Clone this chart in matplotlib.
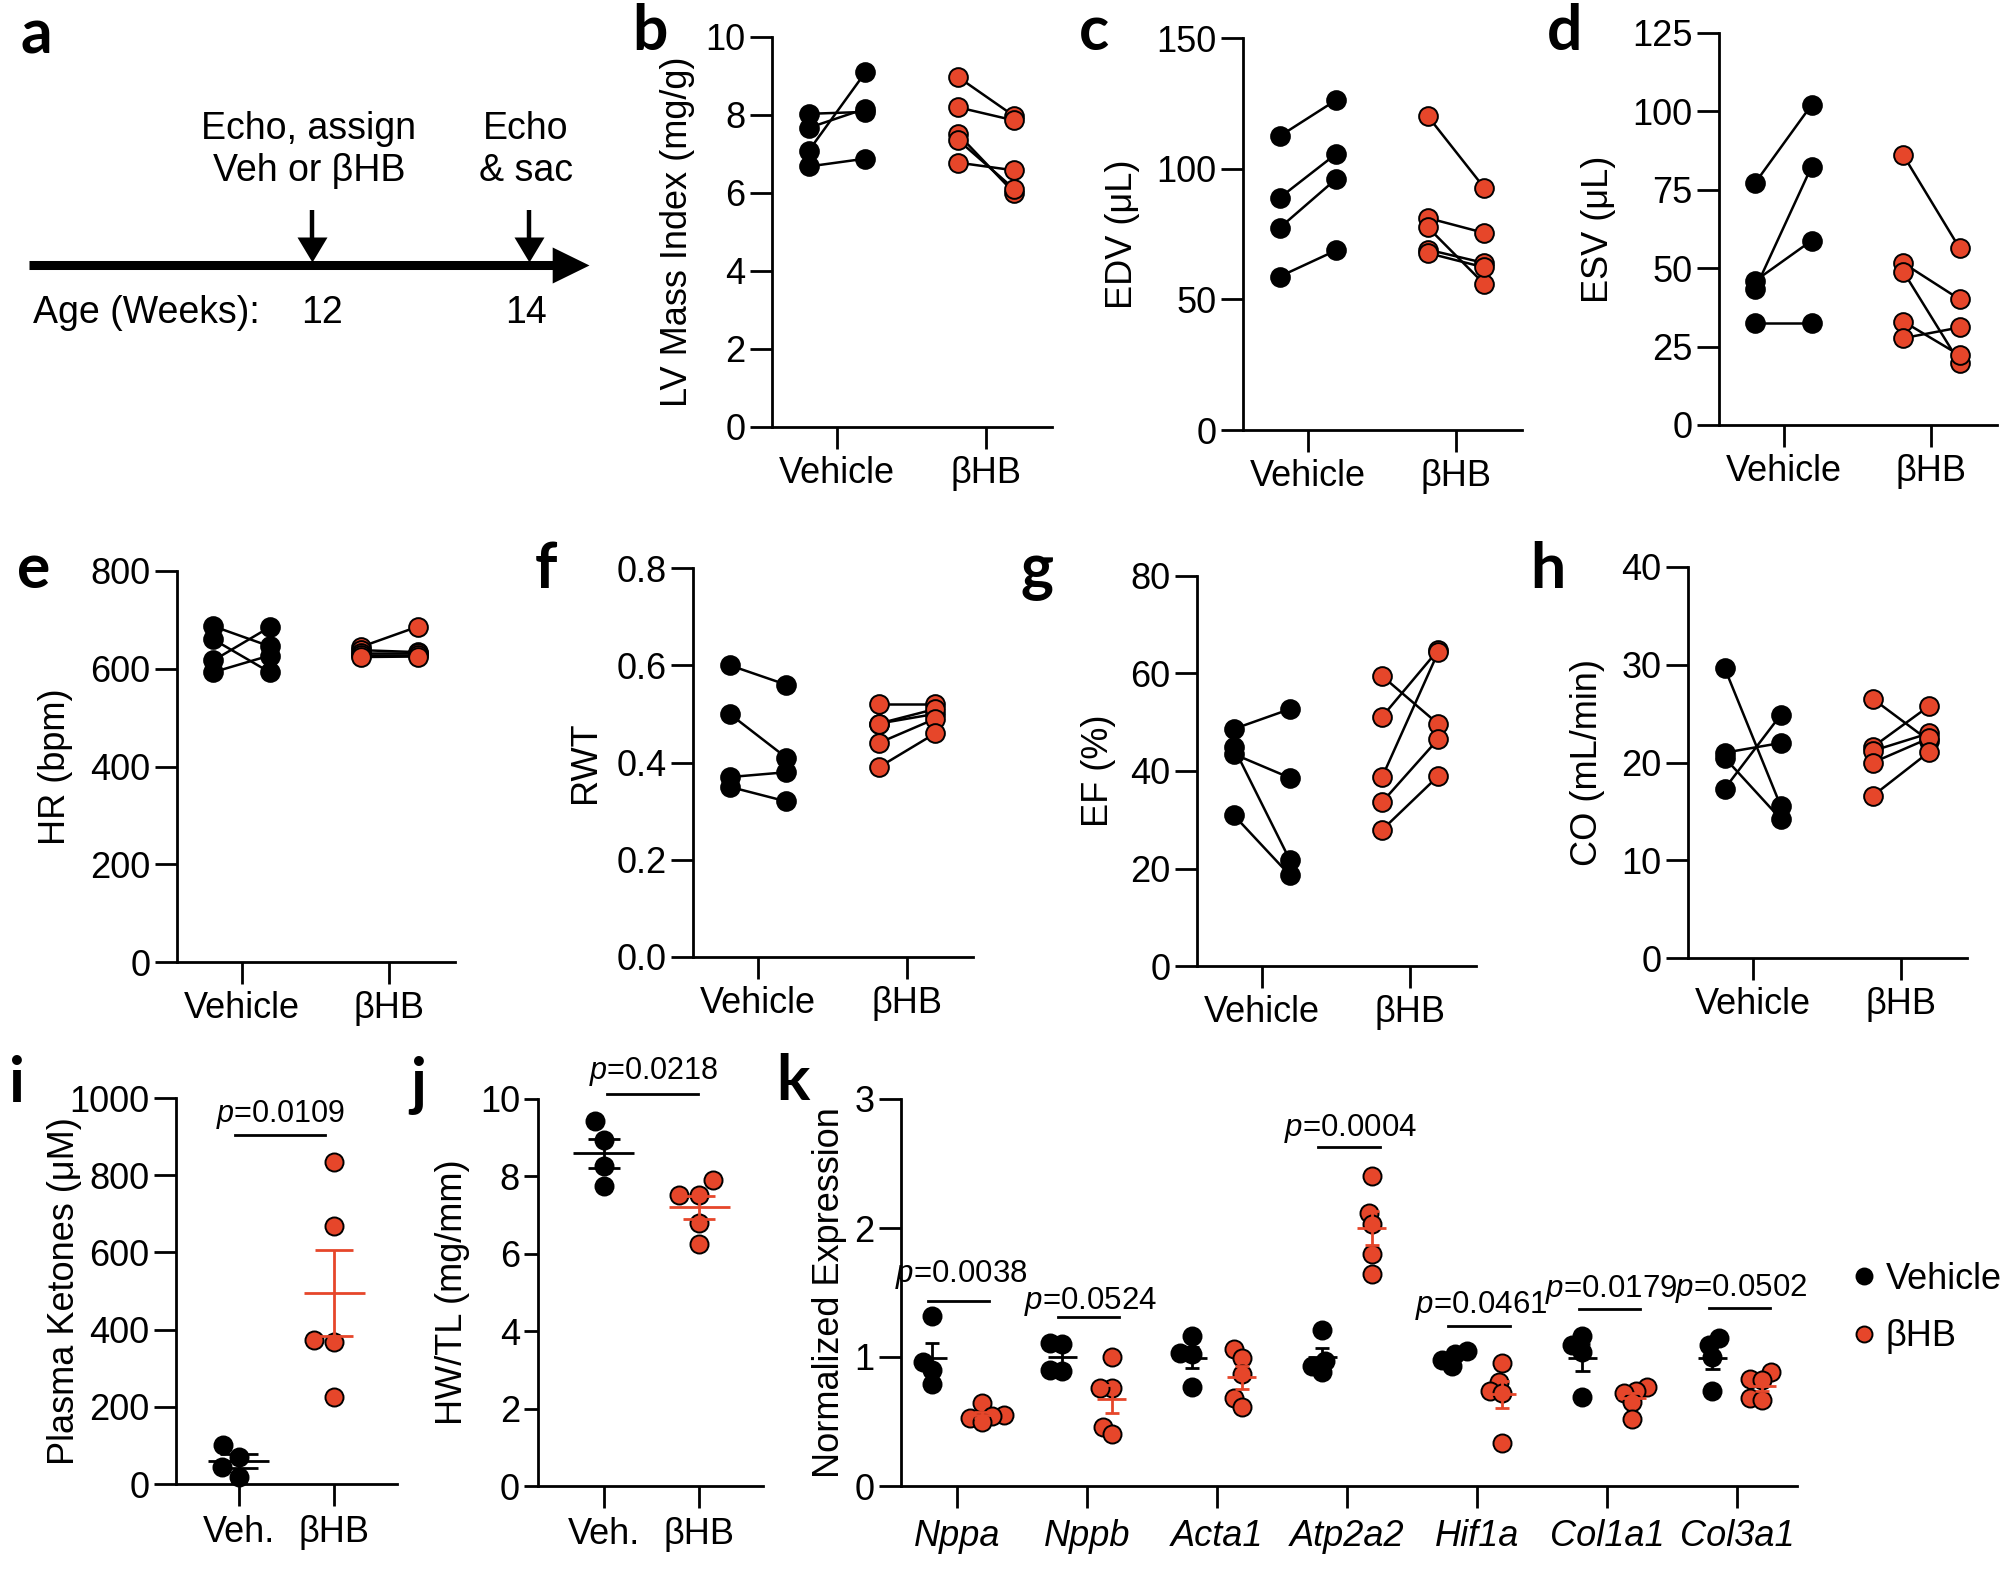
import numpy as np
import matplotlib
matplotlib.use("Agg")
import matplotlib.pyplot as plt
from matplotlib.lines import Line2D
from matplotlib.path import Path
from matplotlib.ticker import FormatStrFormatter

W, H = 2013, 1569
DPI = 100

plt.rcParams['font.family'] = ['Liberation Sans', 'DejaVu Sans']
plt.rcParams['mathtext.fontset'] = 'custom'
plt.rcParams['mathtext.rm'] = 'Liberation Sans'
plt.rcParams['mathtext.it'] = 'Liberation Sans:italic'

# ======================= DATA =======================
GROUPS = ['Vehicle', 'βHB']
GROUPS_SHORT = ['Veh.', 'βHB']

# a  timeline
timeline_weeks = [12, 14]
timeline_events = ['Echo, assign\nVeh or βHB', 'Echo\n& sac']
timeline_axis_label = 'Age (Weeks):'

# b  LV Mass Index (mg/g): paired echo 12 wk -> 14 wk
lvmi_veh_pre = [8.03, 7.67, 7.08, 6.68]
lvmi_veh_post = [8.08, 8.16, 9.09, 6.88]
lvmi_bhb_pre = [8.98, 8.20, 7.52, 7.37, 6.78]
lvmi_bhb_post = [7.97, 7.86, 6.00, 6.10, 6.58]

# c  EDV (uL)
edv_veh_pre = [112.4, 88.8, 77.3, 58.7]
edv_veh_post = [126.2, 105.6, 96.0, 68.7]
edv_bhb_pre = [120.0, 81.1, 77.5, 69.0, 67.7]
edv_bhb_post = [92.6, 75.4, 55.8, 63.9, 62.2]

# d  ESV (uL)
esv_veh_pre = [77.3, 46.0, 43.5, 32.4]
esv_veh_post = [102.1, 58.8, 82.4, 32.4]
esv_bhb_pre = [86.0, 51.6, 48.9, 33.0, 27.7]
esv_bhb_post = [56.4, 40.1, 19.9, 22.3, 31.1]

# e  HR (bpm)
hr_veh_pre = [687, 660, 617, 593]
hr_veh_post = [646, 593, 685, 627]
hr_bhb_pre = [645, 638, 632, 628, 624]
hr_bhb_post = [686, 634, 632, 628, 625]

# f  RWT
rwt_veh_pre = [0.60, 0.50, 0.37, 0.35]
rwt_veh_post = [0.56, 0.41, 0.38, 0.32]
rwt_bhb_pre = [0.52, 0.48, 0.48, 0.44, 0.39]
rwt_bhb_post = [0.52, 0.50, 0.51, 0.49, 0.46]

# g  EF (%)
ef_veh_pre = [48.6, 44.9, 43.5, 31.0]
ef_veh_post = [52.7, 21.7, 38.6, 18.6]
ef_bhb_pre = [59.5, 51.1, 38.7, 33.6, 27.9]
ef_bhb_post = [49.6, 64.9, 64.5, 46.6, 39.0]

# h  CO (mL/min)
co_veh_pre = [29.7, 17.3, 21.0, 20.5]
co_veh_post = [15.5, 24.9, 22.0, 14.2]
co_bhb_pre = [26.5, 21.6, 21.2, 20.0, 16.6]
co_bhb_post = [22.2, 25.8, 23.0, 22.5, 21.1]

# i  Plasma ketones (uM)
ket_veh = [71, 17, 101, 45]
ket_bhb = [833, 669, 373, 369, 225]
ket_p = 'p=0.0109'
ket_p_line = 904
ket_p_text = 956

# j  HW/TL (mg/mm)
hwtl_veh = [9.42, 8.95, 8.26, 7.74]
hwtl_bhb = [7.91, 7.53, 7.53, 6.79, 6.26]
hwtl_p = 'p=0.0218'
hwtl_p_line = 10.13
hwtl_p_text = 10.7

# k  Normalized expression
genes = ['Nppa', 'Nppb', 'Acta1', 'Atp2a2', 'Hif1a', 'Col1a1', 'Col3a1']
expr_veh = [
    [1.32, 0.96, 0.90, 0.79],
    [1.11, 1.10, 0.90, 0.89],
    [1.16, 1.03, 1.02, 0.77],
    [1.21, 0.97, 0.93, 0.88],
    [1.05, 1.02, 0.98, 0.93],
    [1.16, 1.09, 1.04, 0.69],
    [1.15, 1.09, 1.00, 0.74],
]
expr_bhb = [
    [0.64, 0.55, 0.54, 0.53, 0.50],
    [1.00, 0.76, 0.76, 0.46, 0.40],
    [1.06, 0.99, 0.87, 0.68, 0.61],
    [2.40, 2.12, 2.03, 1.80, 1.64],
    [0.95, 0.81, 0.74, 0.72, 0.33],
    [0.77, 0.74, 0.72, 0.65, 0.52],
    [0.88, 0.83, 0.82, 0.68, 0.67],
]
expr_p = ['p=0.0038', 'p=0.0524', None, 'p=0.0004', 'p=0.0461', 'p=0.0179', 'p=0.0502']
expr_p_line = [1.435, 1.31, None, 2.63, 1.24, 1.37, 1.38]
expr_p_text = [1.64, 1.43, None, 2.77, 1.40, 1.52, 1.53]

# ======================= STYLE / LAYOUT =======================
RED = '#E6462A'
BLACK = '#000000'
FS = 26
FS_P = 22
LW_AX = 2.0
LW_PAIR = 1.8
MS_PAIR = 13.5
MS_DOT = 13
MEW = 1.4
PAIR_OFF = 0.19
DODGE = 0.19

fig = plt.figure(figsize=(W / DPI, H / DPI), dpi=DPI)


def add_ax(l, r, t, b):
    return fig.add_axes([l / W, 1 - b / H, (r - l) / W, (b - t) / H])


def style(ax, yticks, xlim, xlabels, ylabel, label_x, ylen=16, fmt=None, italic=False, xpad=5):
    ax.set_xlim(*xlim)
    ax.set_ylim(yticks[0], yticks[-1])
    ax.set_yticks(yticks)
    if fmt:
        ax.yaxis.set_major_formatter(FormatStrFormatter(fmt))
    ax.set_xticks(range(len(xlabels)))
    ax.set_xticklabels(xlabels, fontstyle='italic' if italic else 'normal')
    for s in ('top', 'right'):
        ax.spines[s].set_visible(False)
    for s in ('left', 'bottom'):
        ax.spines[s].set_linewidth(LW_AX)
    ax.tick_params(axis='both', width=LW_AX, labelsize=FS, colors='black')
    ax.tick_params(axis='y', length=ylen, pad=3)
    ax.tick_params(axis='x', length=16, pad=xpad)
    ax.set_ylabel(ylabel, fontsize=FS)
    ax.yaxis.set_label_coords(label_x, 0.5)
    ax.patch.set_visible(False)


def paired(ax, vpre, vpost, bpre, bpost):
    for gi, (pre, post, col) in enumerate([(vpre, vpost, BLACK), (bpre, bpost, RED)]):
        for a, b in zip(pre, post):
            ax.plot([gi - PAIR_OFF, gi + PAIR_OFF], [a, b], color='black', lw=LW_PAIR,
                    zorder=2, clip_on=False)
        ax.plot([gi - PAIR_OFF] * len(pre), pre, 'o', ls='none', ms=MS_PAIR, mfc=col,
                mec='black', mew=MEW, zorder=3, clip_on=False)
        ax.plot([gi + PAIR_OFF] * len(post), post, 'o', ls='none', ms=MS_PAIR, mfc=col,
                mec='black', mew=MEW, zorder=3, clip_on=False)


def swarm_x(ax, center, values, diam_px):
    T = ax.transData
    cx = T.transform((center, 0))[0]
    ys = np.array([T.transform((center, v))[1] for v in values])
    placed = []
    xs = np.zeros(len(values))
    for i in np.argsort(ys, kind='stable'):
        y = ys[i]
        cands = [0.0]
        for px, py in placed:
            dy = abs(y - py)
            if dy < diam_px:
                dx = np.sqrt(diam_px ** 2 - dy ** 2)
                cands.extend([px + dx, px - dx])
        cands = sorted(cands, key=lambda c: (abs(c), c))
        chosen = cands[-1]
        for c in cands:
            if all((c - px) ** 2 + (y - py) ** 2 >= diam_px ** 2 - 1e-6 for px, py in placed):
                chosen = c
                break
        placed.append((chosen, y))
        xs[i] = chosen
    inv = T.inverted()
    return [inv.transform((cx + c, 0))[0] for c in xs]


def dots(ax, center, values, col, diam_px=18):
    xs = swarm_x(ax, center, values, diam_px)
    ax.plot(xs, values, 'o', ls='none', ms=MS_DOT, mfc=col, mec='black', mew=MEW,
            zorder=3, clip_on=False)


def mean_sem(ax, x, vals, col, half_mean, half_cap, lw=2.0):
    m = np.mean(vals)
    s = np.std(vals, ddof=1) / np.sqrt(len(vals))
    kw = dict(color=col, lw=lw, zorder=4, solid_capstyle='butt', clip_on=False)
    ax.plot([x - half_mean, x + half_mean], [m, m], **kw)
    ax.plot([x, x], [m - s, m + s], **kw)
    ax.plot([x - half_cap, x + half_cap], [m + s, m + s], **kw)
    ax.plot([x - half_cap, x + half_cap], [m - s, m - s], **kw)


def pval(ax, x0, x1, yline, xt, ytext, txt, fs):
    ax.plot([x0, x1], [yline, yline], color='black', lw=2.0, clip_on=False, zorder=4)
    lab = txt.replace('p=', '$p$=')
    ax.text(xt, ytext, lab, ha='center', va='center', fontsize=fs, clip_on=False)


# ---------------- panel a: timeline ----------------
ax_a = add_ax(0, 620, 60, 360)
ax_a.set_xlim(9.124, 14.839)
ax_a.set_ylim(360, 60)
ax_a.axis('off')
T_START, T_TIP = 9.387, 14.553
NUM_DX = [0.09, -0.03]
ax_a.plot([T_START, T_TIP - 0.17], [265, 265], color='black', lw=6.5, solid_capstyle='butt')
head_right = Path([[0, 0], [-1, 0.49], [-1, -0.49], [0, 0]])
ax_a.plot([T_TIP], [265], marker=head_right, ms=53, color='black', mew=0, ls='none')
head_down = Path([[0, 0], [-0.6, 1], [0.6, 1], [0, 0]])
for wk, ev, dx in zip(timeline_weeks, timeline_events, NUM_DX):
    ax_a.plot([wk, wk], [210, 252], color='black', lw=3.2, solid_capstyle='butt')
    ax_a.plot([wk], [262], marker=head_down, ms=36, color='black', mew=0, ls='none')
    ax_a.text(wk - 0.03, 150, ev, ha='center', va='center', fontsize=27, linespacing=1.2)
    ax_a.text(wk + dx, 313, str(wk), ha='center', va='center', fontsize=27)
ax_a.text(9.43, 313, timeline_axis_label, ha='left', va='center', fontsize=27)

# ---------------- paired panels b-h ----------------
PXLIM = (-0.436, 1.443)
paired_specs = [
    ((772, 1052, 37, 427), 'LV Mass Index (mg/g)', [0, 2, 4, 6, 8, 10], None, -0.275,
     (lvmi_veh_pre, lvmi_veh_post, lvmi_bhb_pre, lvmi_bhb_post)),
    ((1243, 1522, 38, 430), 'EDV (μL)', [0, 50, 100, 150], None, -0.369,
     (edv_veh_pre, edv_veh_post, edv_bhb_pre, edv_bhb_post)),
    ((1719, 1997, 33, 425), 'ESV (μL)', [0, 25, 50, 75, 100, 125], None, -0.37,
     (esv_veh_pre, esv_veh_post, esv_bhb_pre, esv_bhb_post)),
    ((177, 455, 571, 962), 'HR (bpm)', [0, 200, 400, 600, 800], None, -0.374,
     (hr_veh_pre, hr_veh_post, hr_bhb_pre, hr_bhb_post)),
    ((693, 973, 568, 957), 'RWT', [0.0, 0.2, 0.4, 0.6, 0.8], '%.1f', -0.32,
     (rwt_veh_pre, rwt_veh_post, rwt_bhb_pre, rwt_bhb_post)),
    ((1197, 1476, 576, 966), 'EF (%)', [0, 20, 40, 60, 80], None, -0.29,
     (ef_veh_pre, ef_veh_post, ef_bhb_pre, ef_bhb_post)),
    ((1688, 1967, 567, 958), 'CO (mL/min)', [0, 10, 20, 30, 40], None, -0.297,
     (co_veh_pre, co_veh_post, co_bhb_pre, co_bhb_post)),
]
for rect, ylab, yt, fmt, lx, data in paired_specs:
    ax = add_ax(*rect)
    style(ax, yt, PXLIM, GROUPS, ylab, lx, fmt=fmt)
    paired(ax, *data)

# ---------------- panel i ----------------
ax_i = add_ax(176, 397, 1098, 1484)
style(ax_i, [0, 200, 400, 600, 800, 1000], (-0.66, 1.66), GROUPS_SHORT,
      'Plasma Ketones (μM)', -0.425, xpad=6)
for gi, (vals, col) in enumerate([(ket_veh, BLACK), (ket_bhb, RED)]):
    dots(ax_i, gi, vals, col, diam_px=20)
    mean_sem(ax_i, gi, vals, col, 0.32, 0.2)
pval(ax_i, -0.04, 0.905, ket_p_line, 0.44, ket_p_text, ket_p, FS_P)

# ---------------- panel j ----------------
ax_j = add_ax(538, 763, 1099, 1486)
style(ax_j, [0, 2, 4, 6, 8, 10], (-0.69, 1.67), GROUPS_SHORT,
      'HW/TL (mg/mm)', -0.30, ylen=10, xpad=6)
for gi, (vals, col) in enumerate([(hwtl_veh, BLACK), (hwtl_bhb, RED)]):
    dots(ax_j, gi, vals, col, diam_px=20)
    mean_sem(ax_j, gi, vals, col, 0.32, 0.17)
pval(ax_j, 0.03, 0.99, hwtl_p_line, 0.52, hwtl_p_text, hwtl_p, FS_P)

# ---------------- panel k ----------------
ax_k = add_ax(901, 1797, 1099, 1486)
style(ax_k, [0, 1, 2, 3], (-0.43, 6.46), genes, 'Normalized Expression', -0.060,
      italic=True, xpad=8)
for gi in range(len(genes)):
    dots(ax_k, gi - DODGE, expr_veh[gi], BLACK, diam_px=12)
    dots(ax_k, gi + DODGE, expr_bhb[gi], RED, diam_px=12)
    mean_sem(ax_k, gi - DODGE, expr_veh[gi], BLACK, 0.11, 0.055)
    mean_sem(ax_k, gi + DODGE, expr_bhb[gi], RED, 0.11, 0.055)
    if expr_p[gi]:
        pval(ax_k, gi - 0.22, gi + 0.25, expr_p_line[gi], gi + 0.03, expr_p_text[gi],
             expr_p[gi], 22.5)
handles = [Line2D([], [], marker='o', ls='none', ms=11.5, mfc=c, mec='black', mew=MEW)
           for c in (BLACK, RED)]
ax_k.legend(handles, GROUPS, loc='center left', bbox_to_anchor=(1853 / W, 1 - 1308 / H),
            bbox_transform=fig.transFigure, frameon=False, handlelength=0.6,
            handletextpad=0.3, borderpad=0, borderaxespad=0, labelspacing=0.62,
            fontsize=FS)

# ---------------- panel letters ----------------
ax_o = fig.add_axes([0, 0, 1, 1])
ax_o.set_xlim(0, W)
ax_o.set_ylim(H, 0)
ax_o.axis('off')
letters = {'a': (20, 53), 'b': (632, 50), 'c': (1079, 50), 'd': (1547, 50),
           'e': (17, 588), 'f': (535, 588), 'g': (1020, 588), 'h': (1530, 588),
           'i': (9, 1102), 'j': (410, 1102), 'k': (776, 1100)}
for L, (x, y) in letters.items():
    ax_o.text(x, y, L, ha='left', va='baseline', fontsize=45, fontweight='bold',
              family=['Lato', 'DejaVu Sans'])

fig.savefig('out.png', dpi=DPI)
